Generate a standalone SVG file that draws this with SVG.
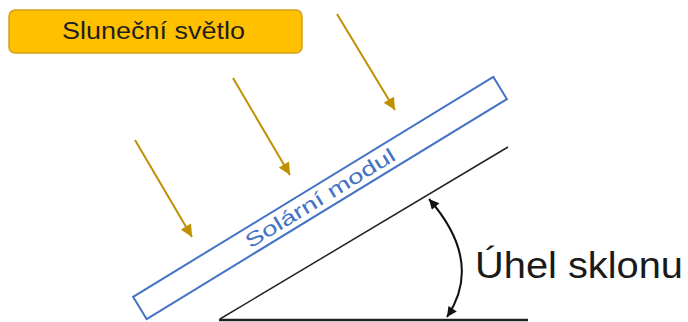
<svg xmlns="http://www.w3.org/2000/svg" width="688" height="322" viewBox="0 0 688 322">
<defs>
<marker id="sun" viewBox="0 0 10 10" refX="10" refY="5" markerWidth="7" markerHeight="6" orient="auto" markerUnits="strokeWidth"><path d="M0,0 L10,5 L0,10 z" fill="#BF9000"/></marker>
<marker id="ang" viewBox="0 0 10 10" refX="10" refY="5" markerWidth="6" markerHeight="5" orient="auto-start-reverse" markerUnits="strokeWidth"><path d="M0,0 L10,5 L0,10 z" fill="#111"/></marker>
<style>
.lbl{font-family:"Liberation Sans",Arial,sans-serif;}
.ray{stroke:#BF9000;stroke-width:2;fill:none;marker-end:url(#sun);}
</style>
</defs>
<rect width="688" height="322" fill="#fff"/>
<g id="sunlight">
<rect x="9" y="10" width="293" height="43" rx="6" fill="#FFC000" stroke="#D4A017" stroke-width="1.5"/>
<text class="lbl" x="62" y="39" font-size="23" fill="#1f1f1f" textLength="183" lengthAdjust="spacingAndGlyphs">Sluneční světlo</text>
</g>
<g id="module" transform="translate(320,198) rotate(-31.4)">
<rect x="-211" y="-13" width="422" height="26" fill="none" stroke="#4472C4" stroke-width="2"/>
<text class="lbl" x="0" y="7" font-size="20" fill="#4472C4" text-anchor="middle" textLength="172" lengthAdjust="spacingAndGlyphs">Solární modul</text>
</g>
<g id="ground">
<line x1="220" y1="319" x2="508" y2="147" stroke="#222" stroke-width="1.5"/>
<line x1="219" y1="320" x2="528" y2="320" stroke="#222" stroke-width="2.5"/>
</g>
<g id="angle-label">
<text class="lbl" x="475" y="278" font-size="36" fill="#1a1a1a" textLength="208" lengthAdjust="spacingAndGlyphs">Úhel sklonu</text>
</g>
<g id="connectors">
<line class="ray" x1="135" y1="140" x2="192" y2="237"/>
<line class="ray" x1="233" y1="78" x2="290" y2="175"/>
<line class="ray" x1="337" y1="14" x2="395" y2="110"/>
<path d="M429 199 Q484 262 447 317" fill="none" stroke="#111" stroke-width="2" marker-start="url(#ang)" marker-end="url(#ang)"/>
</g>
</svg>
